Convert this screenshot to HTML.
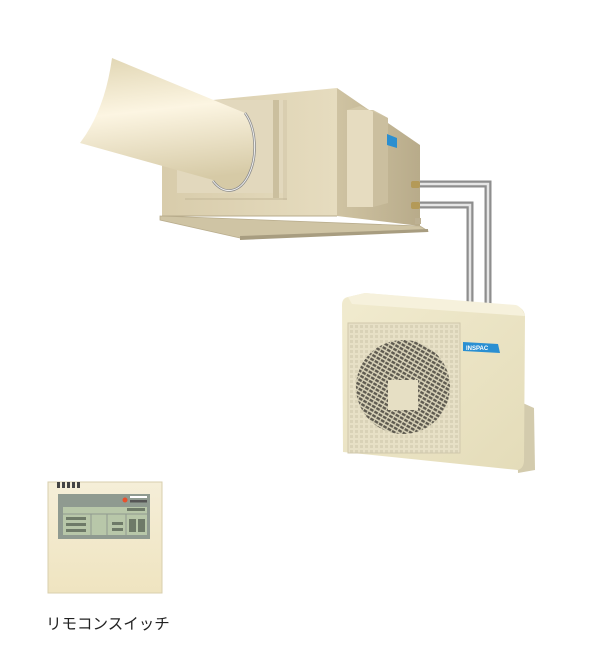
<!DOCTYPE html>
<html><head><meta charset="utf-8"><style>
html,body{margin:0;padding:0;background:#fff;width:600px;height:671px;overflow:hidden}
svg{display:block}
.lbl{font-family:"Liberation Sans","Noto Sans CJK JP",sans-serif;font-size:15.5px;fill:#222}
</style></head><body>
<svg width="600" height="671" viewBox="0 0 600 671" xmlns="http://www.w3.org/2000/svg">
<defs>
<linearGradient id="duct" x1="0" y1="0" x2="0.15" y2="1">
<stop offset="0" stop-color="#e0d5b2"/><stop offset="0.45" stop-color="#fcf5e2"/><stop offset="1" stop-color="#d6caa6"/></linearGradient>
<linearGradient id="front" x1="0" y1="0" x2="1" y2="0">
<stop offset="0" stop-color="#d8ccab"/><stop offset="1" stop-color="#e6dcbf"/></linearGradient>
<linearGradient id="side" x1="0" y1="0" x2="1" y2="0">
<stop offset="0" stop-color="#cfc3a2"/><stop offset="1" stop-color="#b8ab8a"/></linearGradient>
<linearGradient id="od" x1="0" y1="0" x2="1" y2="1">
<stop offset="0" stop-color="#f1ebcf"/><stop offset="1" stop-color="#e4dcb9"/></linearGradient>
<linearGradient id="rc" x1="0" y1="0" x2="0" y2="1">
<stop offset="0" stop-color="#f5eed8"/><stop offset="1" stop-color="#efe4c0"/></linearGradient>
<pattern id="grill" width="5" height="5" patternUnits="userSpaceOnUse">
<rect width="5" height="5" fill="#e7e0c6"/><rect width="3" height="3" fill="#d9d2b7"/></pattern>
<pattern id="fan" width="5" height="4" patternUnits="userSpaceOnUse" patternTransform="rotate(30)">
<rect width="5" height="4" fill="#d8d2b8"/><rect width="3.8" height="2.4" fill="#5e5a50"/></pattern>
</defs>

<path d="M418 184 H488 V306" fill="none" stroke="#8e8e8e" stroke-width="7"/>
<path d="M418 184 H488 V306" fill="none" stroke="#e6e6e6" stroke-width="2.5"/>
<path d="M418 205 H470 V306" fill="none" stroke="#8e8e8e" stroke-width="7"/>
<path d="M418 205 H470 V306" fill="none" stroke="#e6e6e6" stroke-width="2.5"/>

<polygon points="160,216 420,226 428,231 240,238 160,220" fill="#cfc4a4" stroke="#b9ad8d" stroke-width="0.8"/>
<polygon points="240,236 428,229 428,232 240,240" fill="#a89d80"/>
<polygon points="337,88 420,145 420,226 337,216" fill="url(#side)"/>
<polygon points="213,100 337,88 337,216 162,216 162,100" fill="url(#front)"/>
<rect x="177" y="100" width="110" height="93" fill="#e2d8bd"/>
<rect x="273" y="100" width="6" height="98" fill="#cbbf9e"/>
<rect x="283" y="100" width="4" height="100" fill="#d9ceb0"/>
<line x1="185" y1="199" x2="287" y2="199" stroke="#c3b797"/>
<rect x="347" y="110" width="26" height="97" fill="#e6dcc0"/>
<polygon points="373,110 388,118 388,203 373,207" fill="#cbbf9f"/>
<polygon points="347,110 360,106 388,118 373,110" fill="#d3c8a8"/>
<polygon points="387,134 397,138 397,148 387,145" fill="#2b8fd0"/>
<line x1="162" y1="216" x2="337" y2="216" stroke="#b8ac8c"/>
<rect x="411" y="181" width="9" height="7" rx="2" fill="#b49a58"/>
<rect x="411" y="202" width="9" height="7" rx="2" fill="#b49a58"/>
<rect x="415" y="218" width="6" height="6" fill="#bdb193"/>
<path d="M112 58 L245 113 A20 33 0 0 1 213 180 L80 143 Q105 110 112 58 Z" fill="url(#duct)"/>
<path d="M245 113 A20 34 0 0 1 213 181" fill="none" stroke="#8a8a8a" stroke-width="2.5"/>
<path d="M245 113 A20 34 0 0 1 213 181" fill="none" stroke="#eee" stroke-width="1"/>

<polygon points="516,400 534,408 535,470 518,473" fill="#d3cbad"/>
<path d="M348 297 Q342 298 342 305 L343 452 L518 470 Q524 468 524 460 L525 316 Q524 308 516 306 L365 293 Z" fill="url(#od)"/>
<path d="M348 297 L365 293 L516 305 Q522 307 525 316 L352 304 Z" fill="#f6f1dc"/>
<rect x="348" y="323" width="112" height="130" fill="url(#grill)" stroke="#d0c8ac"/>
<circle cx="403" cy="387" r="47" fill="url(#fan)"/>
<rect x="388" y="380" width="30" height="30" fill="#e6dfc4"/>
<polygon points="463,342 498,344 500,353 463,351" fill="#2a8fd2"/>
<text x="466" y="350" font-family="Liberation Sans,sans-serif" font-size="6" font-weight="bold" fill="#fff">INSPAC</text>

<rect x="48" y="482" width="114" height="111" fill="url(#rc)" stroke="#d8cfae"/>
<rect x="57" y="482" width="3" height="6" fill="#444"/><rect x="62" y="482" width="3" height="6" fill="#444"/>
<rect x="67" y="482" width="3" height="6" fill="#444"/><rect x="72" y="482" width="3" height="6" fill="#444"/>
<rect x="77" y="482" width="3" height="6" fill="#444"/>
<rect x="58" y="494" width="92" height="45" fill="#8f9a90"/>
<circle cx="125" cy="500" r="2.5" fill="#e8502c"/>
<rect x="130" y="496" width="17" height="2" fill="#fff"/><rect x="130" y="500" width="17" height="2.5" fill="#555"/>
<rect x="63" y="507" width="84" height="28" fill="#b8c7a9"/>
<rect x="127" y="508" width="18" height="3" fill="#6e7a68"/>
<line x1="63" y1="514" x2="147" y2="514" stroke="#8f9a90"/>
<rect x="66" y="517" width="20" height="3" fill="#6e7a68"/><rect x="66" y="523" width="20" height="3" fill="#6e7a68"/><rect x="66" y="529" width="20" height="3" fill="#6e7a68"/>
<line x1="91" y1="514" x2="91" y2="535" stroke="#8f9a90"/><line x1="107" y1="514" x2="107" y2="535" stroke="#8f9a90"/><line x1="126" y1="514" x2="126" y2="535" stroke="#8f9a90"/>
<rect x="112" y="522" width="11" height="3" fill="#6e7a68"/><rect x="112" y="528" width="11" height="3" fill="#6e7a68"/>
<rect x="129" y="519" width="7" height="13" fill="#6e7a68"/><rect x="138" y="519" width="7" height="13" fill="#6e7a68"/>
<text x="46" y="629" class="lbl">リモコンスイッチ</text>
</svg>
</body></html>
